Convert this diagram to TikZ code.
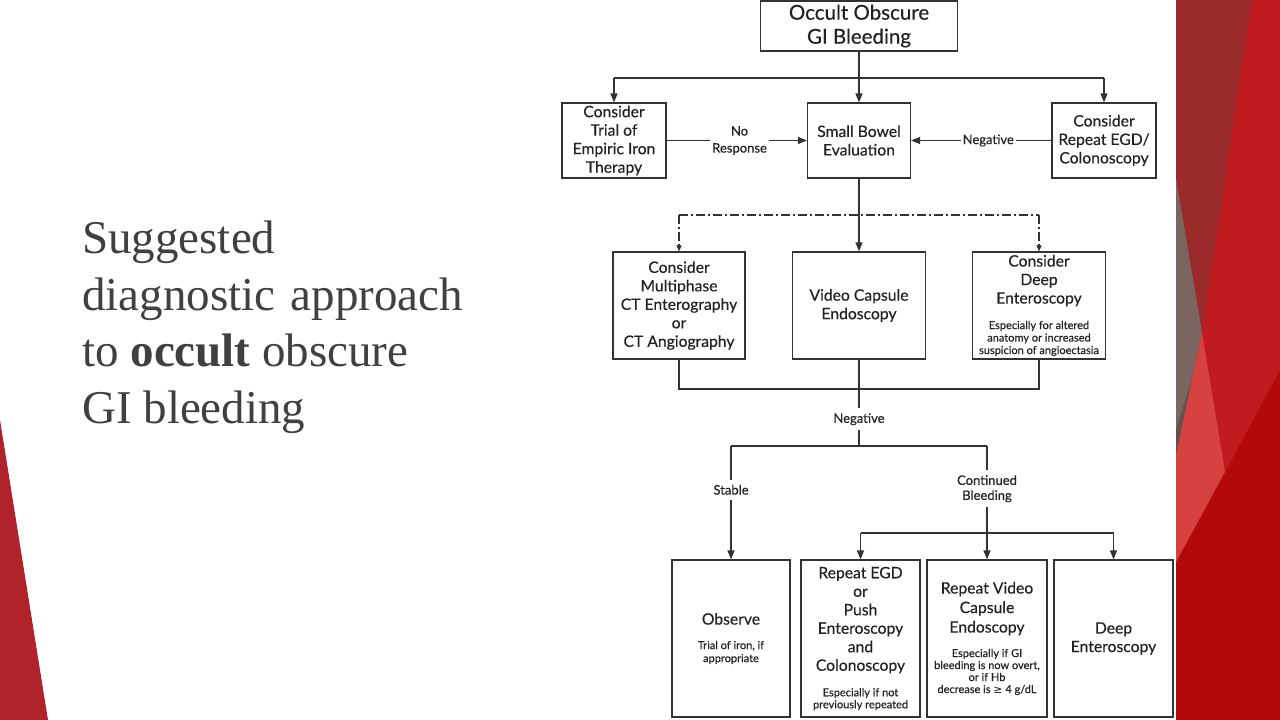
\documentclass[tikz,border=0pt]{standalone}
\usepackage{fontspec}
\setmainfont{Liberation Serif}
\newfontfamily\diagf[FakeBold=0.35]{Lato}
\newfontfamily\symf{DejaVu Sans}
\usetikzlibrary{arrows.meta}
\definecolor{ln}{HTML}{333333}
\definecolor{tx}{HTML}{222222}
\definecolor{txtgray}{HTML}{404040}
\definecolor{leftred}{HTML}{B0232A}
\definecolor{maroon}{HTML}{9B2A2A}
\definecolor{brightred}{HTML}{C01B1E}
\definecolor{greybrown}{HTML}{7A6560}
\definecolor{darkgrey}{HTML}{5F5250}
\definecolor{pinkred}{HTML}{D5423F}
\definecolor{deepred}{HTML}{B20A0A}
\newcommand\smt[1]{{\fontsize{11}{12.5}\selectfont #1}}
\begin{document}
\begin{tikzpicture}[x=1pt,y=-1pt,
  box/.style={draw=ln, line width=1.2pt, inner sep=0pt, align=center, text=tx,
              font=\diagf\fontsize{15.7}{18.5}\selectfont},
  lab/.style={fill=white, inner xsep=2pt, inner ysep=5pt, align=center, text=tx,
              font=\diagf\fontsize{13}{16}\selectfont},
  con/.style={draw=ln, line width=1.2pt},
  arr/.style={con, -{Triangle[length=9pt,width=7pt]}},
  dd/.style={con, dash pattern=on 9pt off 3pt on 2pt off 3pt},
  ddarr/.style={dd, -{Triangle[length=6pt,width=5pt]}}
]
\useasboundingbox (0,0) rectangle (1280,720);
\fill[white] (0,0) rectangle (1280,720);

% left decoration
\fill[leftred] (0,420) -- (48,720) -- (0,720) -- cycle;

% right decoration
\fill[deepred] (1176,0) rectangle (1280,720);
\fill[brightred] (1252,0) -- (1280,0) -- (1280,370) -- (1225,472) -- (1202,332)
  .. controls (1215,250) and (1235,110) .. (1252,0) -- cycle;
\fill[maroon] (1176,0) -- (1252,0) .. controls (1235,110) and (1215,250) .. (1202,332)
  -- (1176,178) -- cycle;
\fill[greybrown] (1176,178) -- (1202,332) -- (1176,455) -- cycle;
\fill[darkgrey] (1176,430) -- (1194,372) -- (1176,455) -- cycle;
\fill[pinkred] (1202,332) -- (1176,455) -- (1176,562) -- (1225,472) -- cycle;

% left title
\begin{scope}[every node/.style={anchor=base west, inner sep=0pt, text=txtgray,
    font=\fontsize{47}{56}\selectfont}]
\node (t1) at (82,253) {Suggested};
\node (t2) at (82,310) {\makebox[381pt][s]{diagnostic approach}};
\node (t3) at (82,366) {to \textbf{occult} obscure};
\node (t4) at (82,423) {GI bleeding};
\end{scope}

% boxes
\node[box, minimum width=197pt, minimum height=50pt, font=\diagf\fontsize{20.5}{24}\selectfont]
  (top) at (859,26) {Occult Obscure\\GI Bleeding};
\node[box, minimum width=104pt, minimum height=75pt] (iron) at (614,140.5)
  {Consider\\Trial of\\Empiric Iron\\Therapy};
\node[box, minimum width=103pt, minimum height=75pt] (sb) at (859,140.5)
  {Small Bowel\\Evaluation};
\node[box, minimum width=104pt, minimum height=75pt] (egdA) at (1104,140.5)
  {Consider\\Repeat EGD/\\Colonoscopy};

\node[box, minimum width=132pt, minimum height=107pt] (ct) at (679,305.5)
  {Consider\\Multiphase\\CT Enterography\\or\\CT Angiography};
\node[box, minimum width=133pt, minimum height=107pt] (vce) at (859,305.5)
  {Video Capsule\\Endoscopy};
\node[box, minimum width=133pt, minimum height=107pt] (deepA) at (1039,305.5)
  {Consider\\Deep\\Enteroscopy\\[7pt]\smt{Especially for altered}\\[-6pt]\smt{anatomy or increased}\\[-6pt]\smt{suspicion of angioectasia}};

\node[box, minimum width=118pt, minimum height=157pt] (obs) at (731,638.5)
  {Observe\\[6pt]\smt{Trial of iron, if}\\[-5.5pt]\smt{appropriate}};
\node[box, minimum width=119pt, minimum height=157pt] (egdB) at (860.5,638.5)
  {Repeat EGD\\or\\Push\\Enteroscopy\\and\\Colonoscopy\\[7pt]\smt{Especially if not}\\[-6.5pt]\smt{previously repeated}};
\node[box, minimum width=120pt, minimum height=157pt] (rvce) at (987,638.5)
  {Repeat Video\\[1pt]Capsule\\[1pt]Endoscopy\\[6pt]\smt{Especially if GI}\\[-6.5pt]\smt{bleeding is now overt,}\\[-6.5pt]\smt{or if Hb}\\[-6.5pt]\smt{decrease is {\symf ≥} 4 g/dL}};
\node[box, minimum width=119pt, minimum height=157pt] (dent) at (1113.5,638.5)
  {Deep\\Enteroscopy};

% connectors
\coordinate (j1) at (859,78);
\draw[arr] (top.south) -- (sb.north);
\draw[con] (iron.north |- j1) -- (egdA.north |- j1);
\draw[arr] (iron.north |- j1) -- (iron.north);
\draw[arr] (egdA.north |- j1) -- (egdA.north);
\draw[arr] (iron.east) -- (sb.west) node[lab, pos=0.52] (lnr) {No\\[1pt]Response};
\draw[arr] (egdA.west) -- (sb.east) node[lab, pos=0.45] (lneg1) {Negative};

\coordinate (j2) at (859,215);
\draw[arr] (sb.south) -- (vce.north);
\draw[dd] (ct.north |- j2) -- (deepA.north |- j2);
\draw[ddarr] (ct.north |- j2) -- (ct.north);
\draw[ddarr] (deepA.north |- j2) -- (deepA.north);

\coordinate (j3) at (859,389);
\draw[con] (ct.south) -- (ct.south |- j3) -- (deepA.south |- j3) -- (deepA.south);
\coordinate (j4) at (859,446);
\draw[con] (vce.south) -- (j4) node[lab, pos=0.69] (lneg2) {Negative};
\draw[con] (obs.north |- j4) -- (rvce.north |- j4);
\draw[arr] (obs.north |- j4) -- (obs.north) node[lab, pos=0.386] (lstab) {Stable};
\draw[arr] (rvce.north |- j4) -- (rvce.north) node[lab, pos=0.377] (lcont) {Continued\\[-1pt]Bleeding};
\coordinate (j5) at (987,533);
\draw[con] (egdB.north |- j5) -- (dent.north |- j5);
\draw[arr] (egdB.north |- j5) -- (egdB.north);
\draw[arr] (dent.north |- j5) -- (dent.north);
\end{tikzpicture}
\end{document}
